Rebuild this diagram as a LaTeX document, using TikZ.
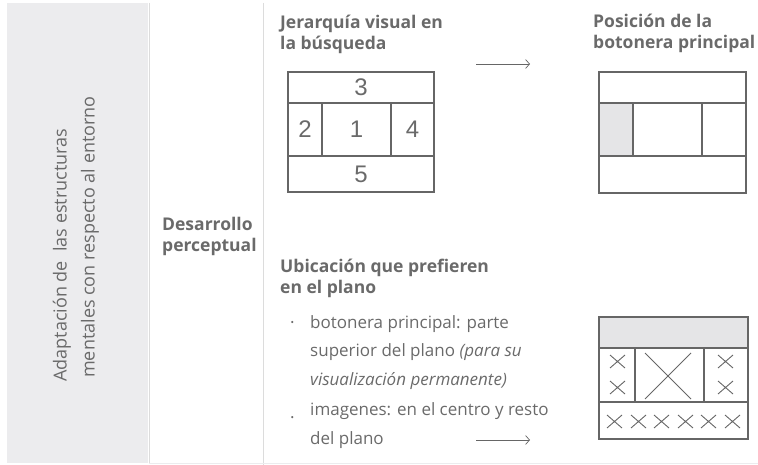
\documentclass[tikz,border=0pt]{standalone}
\usepackage{fontspec}
\setmainfont{Open Sans}
\newfontfamily\digitfont{Liberation Sans}
\usetikzlibrary{arrows.meta}
\definecolor{panelbg}{HTML}{ECECEE}
\definecolor{rulegrey}{HTML}{DCDCDC}
\definecolor{frameink}{HTML}{666666}
\definecolor{textink}{HTML}{6A6A6A}
\definecolor{cellgrey}{HTML}{E5E5E7}

\begin{document}
\begin{tikzpicture}[x=1pt, y=-1pt,
  divider/.style={draw=rulegrey, line width=1pt},
  cell/.style={draw=frameink, line width=1.2pt, inner sep=0pt,
               font=\digitfont\fontsize{24}{24}\selectfont, text=textink},
  shaded/.style={cell, fill=cellgrey},
  xline/.style={draw=frameink, line width=0.9pt},
  flow/.style={draw=frameink, line width=0.7pt, -{Straight Barb[length=4pt, width=9pt]}},
  strong/.style={font=\bfseries\fontsize{17.5}{21}\selectfont, text=textink,
                 align=left, inner sep=0pt, anchor=base west},
  lbl/.style={font=\fontsize{17}{28.5}\selectfont, text=textink,
              align=left, inner sep=0pt, anchor=base west},
  sidelbl/.style={font=\fontsize{18}{18}\selectfont, text=textink,
                  inner sep=0pt, rotate=90, anchor=mid west}]

\useasboundingbox (0,0) rectangle (758,465);

% side panel and column rules
\fill[panelbg] (7,3) rectangle (148,463);
\draw[divider] (149,3) -- (149,463);
\draw[divider] (263,3) -- (263,465);
\draw[divider, draw=panelbg] (149,463.5) -- (758,463.5);
\node[sidelbl] (side1) at (64,382) {Adaptación de~ las estructuras};
\node[sidelbl] (side2) at (92,378) {mentales con respecto al entorno};

% base of a multi-line node = its last line
\node[strong] (stage) at (162,252) {Desarrollo\\perceptual};

% jerarquia visual
\node[strong] (hiertitle) at (280,50) {Jerarquía visual en\\la búsqueda};
\node[cell, minimum width=146pt, minimum height=31pt] (h3) at (361,87.5) {3};
\node[cell, minimum width=34pt, minimum height=53pt] (h2) at (305,129.5) {2};
\node[cell, minimum width=69pt, minimum height=53pt] (h1) at (356.5,129.5) {1};
\node[cell, minimum width=43pt, minimum height=53pt] (h4) at (412.5,129.5) {4};
\node[cell, minimum width=146pt, minimum height=36pt] (h5) at (361,174) {5};

\coordinate (a1s) at (476,64);
\coordinate (a1e) at (530,64);
\draw[flow] (a1s) -- (a1e);

% posicion de la botonera
\node[strong] (postitle) at (593,49) {Posición de la\\botonera principal};
\node[cell, minimum width=147pt, minimum height=31pt] (p3) at (672.5,87.5) {};
\node[shaded, minimum width=34pt, minimum height=53pt] (p2) at (616,129.5) {};
\node[cell, minimum width=69pt, minimum height=53pt] (p1) at (667.5,129.5) {};
\node[cell, minimum width=44pt, minimum height=53pt] (p4) at (724,129.5) {};
\node[cell, minimum width=147pt, minimum height=37pt] (p5) at (672.5,174.5) {};

% ubicacion en el plano
\node[strong] (loctitle) at (280,294) {Ubicación que prefieren\\en el plano};
\node[lbl] (dot1) at (290,328) {·};
\node[lbl] (item1) at (310,385)
  {botonera principal: parte\\superior del plano \textit{(para su}\\\textit{visualización permanente)}};
\node[lbl] (dot2) at (290,418) {.};
\node[lbl] (item2) at (310,444) {imagenes: en el centro y resto\\del plano};

\coordinate (a2s) at (476,440);
\coordinate (a2e) at (530,440);
\draw[flow] (a2s) -- (a2e);

% plano con imagenes
\node[shaded, minimum width=149pt, minimum height=31pt] (q3) at (673.5,332.5) {};
\node[cell, minimum width=36pt, minimum height=54pt] (q2) at (617,375) {};
\node[cell, minimum width=69pt, minimum height=54pt] (q1) at (669.5,375) {};
\node[cell, minimum width=44pt, minimum height=54pt] (q4) at (726,375) {};
\node[cell, minimum width=149pt, minimum height=37pt] (q5) at (673.5,420.5) {};
\draw[xline] (645,353) -- (691,399) (645,399) -- (691,353);
\foreach \cx/\cy in {617.5/361.5, 617.5/387.5, 725.5/361.5, 725.5/387.5,
    614.5/421.5, 638.5/421.5, 661.5/421.5, 685.5/421.5, 708.5/421.5, 732.5/421.5}{
  \draw[xline] (\cx-7.5,\cy-6.5) -- (\cx+7.5,\cy+6.5)
               (\cx-7.5,\cy+6.5) -- (\cx+7.5,\cy-6.5);}

\end{tikzpicture}
\end{document}
